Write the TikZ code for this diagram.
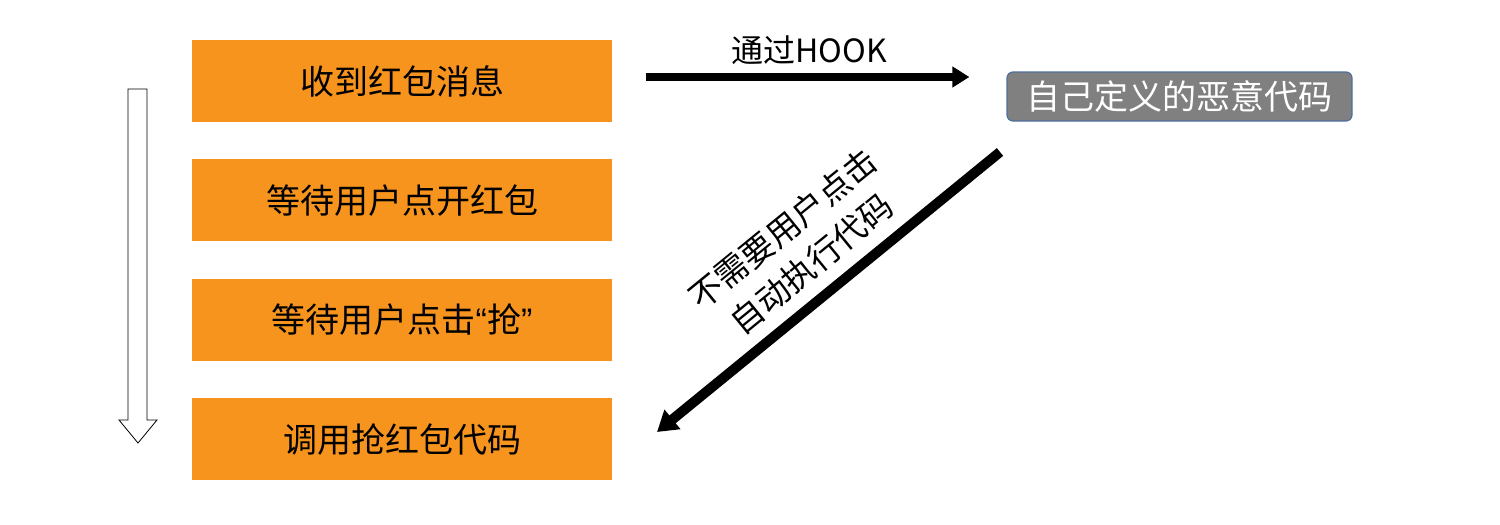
\documentclass[tikz,border=0pt]{standalone}
\usepackage{fontspec}
\setmainfont{Noto Sans CJK SC}
\newfontfamily\latinq{Liberation Sans}
\usetikzlibrary{arrows.meta,positioning}
\definecolor{hong}{HTML}{F7941E}
\definecolor{huise}{HTML}{808080}
\definecolor{bian}{HTML}{4F6F9C}
\definecolor{ink}{HTML}{000000}
\tikzset{
  step box/.style={draw=none,fill=hong,minimum width=420pt,minimum height=82pt,inner sep=0pt,font=\fontsize{34}{40}\selectfont,text=ink},
  evil/.style={draw=bian,line width=1.2pt,fill=huise,rounded corners=6pt,minimum width=345pt,minimum height=49pt,inner sep=0pt,font=\fontsize{34}{40}\selectfont,text=white},
  lbl/.style={align=center,font=\fontsize{32}{38}\selectfont,text=ink},
  lbd/.style={align=center,font=\fontsize{33}{45}\selectfont,text=ink},
  ar/.style={-{Triangle[length=17pt,width=20pt]},draw=ink,line width=8pt},
  arb/.style={-{Triangle[length=20pt,width=24pt]},draw=ink,line width=10pt},
}
\begin{document}
\begin{tikzpicture}[x=1pt,y=-1pt,node distance=37pt]
  \useasboundingbox (0,0) rectangle (1500,525);
  \node[step box] (s1) at (402,81) {收到红包消息};
  \node[step box,below=of s1] (s2) {等待用户点开红包};
  \node[step box,below=of s2] (s3) {等待用户点击{\latinq “}抢{\latinq ”}};
  \node[step box,below=of s3] (s4) {调用抢红包代码};
  \node[evil] (evil) at (1179.5,96.5) {自己定义的恶意代码};
  % flow direction on the left
  \draw[ink,line width=.8pt,fill=white] (128,89) -- (147,89) -- (147,420) -- (157,420)
    -- (138,443) -- (119,420) -- (128,420) -- cycle;
  % hook
  \draw[ar,shorten <=34pt,shorten >=37pt] (s1.east |- 0,77) -- node[lbl,above=5pt]{通过HOOK} (evil.west |- 0,77);
  \coordinate (e1) at (1000,152);
  \coordinate (e2) at (657,432);
  \draw[arb] (e1) -- node[lbd,sloped,above=9pt,pos=.49]{不需要用户点击\\自动执行代码} (e2);
\end{tikzpicture}
\end{document}
